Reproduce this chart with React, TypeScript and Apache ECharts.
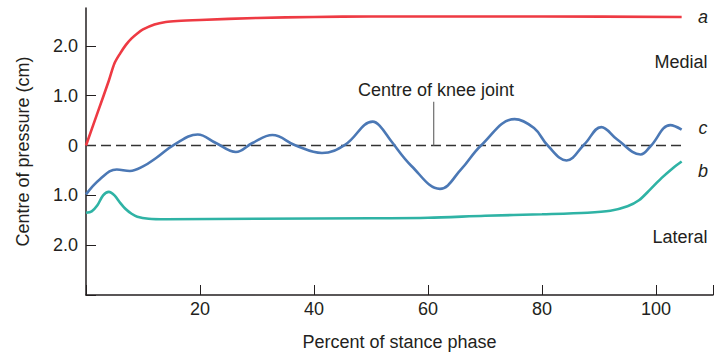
import React, { useEffect, useRef } from "react";
import * as echarts from "echarts";

// Percent of stance phase (x) and centre of pressure (cm, medial positive) (y)
const stanceA = [0, 2, 4, 5, 6, 7, 8, 9, 10, 12, 14, 16, 20, 30, 40, 50, 60, 80, 104.5];
const pressureA = [0, 0.65, 1.3, 1.65, 1.85, 2.02, 2.15, 2.25, 2.33, 2.43, 2.48, 2.5, 2.52, 2.56, 2.58, 2.59, 2.59, 2.59, 2.58];

const stanceB = [0, 1, 2, 3, 4, 5, 6, 7, 8, 9, 11, 14, 30, 50, 60, 70, 80, 88, 92, 95, 97, 99, 101, 103, 104.5];
const pressureB = [-1.35, -1.32, -1.2, -1.0, -0.93, -1.0, -1.15, -1.28, -1.37, -1.43, -1.47, -1.48, -1.47, -1.46, -1.45, -1.41, -1.38, -1.35, -1.31, -1.22, -1.1, -0.88, -0.65, -0.45, -0.32];

const stanceC = [0, 2.4, 5.4, 7.7, 10, 12.3, 15.5, 19.6, 22.8, 26.3, 29.2, 32.7, 36.8, 41.4, 45.5, 50.3, 51.5, 53.6, 57.1, 62.1, 65.8, 69.3, 75.2, 78.6, 81, 84.3, 87.4, 90.4, 93.2, 97.3, 99, 102.5, 104.5];
const pressureC = [-0.98, -0.68, -0.48, -0.51, -0.42, -0.25, 0.02, 0.22, 0.05, -0.13, 0.05, 0.21, 0, -0.15, 0.02, 0.48, 0.4, 0.08, -0.41, -0.87, -0.48, 0, 0.53, 0.35, 0, -0.3, 0.02, 0.37, 0.12, -0.18, -0.02, 0.41, 0.32];

const kneeCentreX = [0, 104.5];
const kneeCentreY = [0, 0];
const leaderX = [61, 61];
const leaderY = [0, 0.88];

const xTicks = [20, 40, 60, 80, 100];

const FONT = "'Liberation Sans', Arial, sans-serif";
const FS = 18;
const TEXT = "#231f20";

const zip = (xs: number[], ys: number[]) => xs.map((x, i) => [x, ys[i]]);

export default function App() {
  const ref = useRef<HTMLDivElement>(null);
  useEffect(() => {
    if (!ref.current) return;
    const chart = echarts.init(ref.current, null, { renderer: "svg" });
    const label = (text: string, x: number, y: number, italic = false) => ({
      type: "text",
      x,
      y,
      style: {
        text,
        fill: TEXT,
        fontSize: FS,
        fontFamily: FONT,
        fontStyle: italic ? "italic" : "normal",
        align: "center",
        verticalAlign: "middle",
      },
    });
    chart.setOption({
      animation: false,
      grid: { left: 86, right: 0, top: 8, bottom: 62 },
      xAxis: {
        type: "value",
        min: 0,
        max: 110,
        interval: 20,
        name: "Percent of stance phase",
        nameLocation: "middle",
        nameGap: 38,
        nameTextStyle: { color: TEXT, fontSize: FS, fontFamily: FONT },
        axisLine: { onZero: false, lineStyle: { color: TEXT, width: 1.5 } },
        axisTick: { inside: true, length: 10, lineStyle: { color: TEXT, width: 1 } },
        axisLabel: {
          color: TEXT,
          fontSize: FS,
          fontFamily: FONT,
          margin: 5,
          formatter: (v: number) => (xTicks.includes(v) ? String(v) : ""),
        },
        splitLine: { show: false },
      },
      yAxis: {
        type: "value",
        min: -3,
        max: 2.76,
        interval: 1,
        name: "Centre of pressure (cm)",
        nameLocation: "middle",
        nameGap: 54,
        nameTextStyle: { color: TEXT, fontSize: FS, fontFamily: FONT },
        axisLine: { show: true, onZero: false, lineStyle: { color: TEXT, width: 1.5 } },
        axisTick: { show: true, inside: true, length: 10, lineStyle: { color: TEXT, width: 1 } },
        axisLabel: {
          color: TEXT,
          fontSize: FS,
          fontFamily: FONT,
          margin: 8,
          showMaxLabel: false,
          formatter: (v: number) => (v === -3 ? "" : v === 0 ? "0" : Math.abs(v).toFixed(1)),
        },
        splitLine: { show: false },
      },
      graphic: [
        label("a", 703, 17, true),
        label("Medial", 681, 62),
        label("c", 703, 128, true),
        label("b", 703, 171, true),
        label("Lateral", 680, 237),
        label("Centre of knee joint", 436, 90),
      ],
      series: [
        {
          type: "line",
          data: zip(kneeCentreX, kneeCentreY),
          showSymbol: false,
          lineStyle: { color: "#333333", width: 1.3, type: [10, 5] },
          silent: true,
        },
        {
          type: "line",
          data: zip(leaderX, leaderY),
          showSymbol: false,
          lineStyle: { color: "#6d6d6d", width: 1.2 },
          silent: true,
        },
        {
          type: "line",
          data: zip(stanceA, pressureA),
          showSymbol: false,
          smooth: 0.3,
          lineStyle: { color: "#ee3a43", width: 2.6 },
        },
        {
          type: "line",
          data: zip(stanceB, pressureB),
          showSymbol: false,
          smooth: 0.3,
          lineStyle: { color: "#2fb3a5", width: 2.6 },
        },
        {
          type: "line",
          data: zip(stanceC, pressureC),
          showSymbol: false,
          smooth: 0.4,
          lineStyle: { color: "#4b78b5", width: 2.6 },
        },
      ],
    });
    return () => chart.dispose();
  }, []);
  return <div ref={ref} style={{ width: 716, height: 357, position: "absolute", left: 0, top: 0 }} />;
}
